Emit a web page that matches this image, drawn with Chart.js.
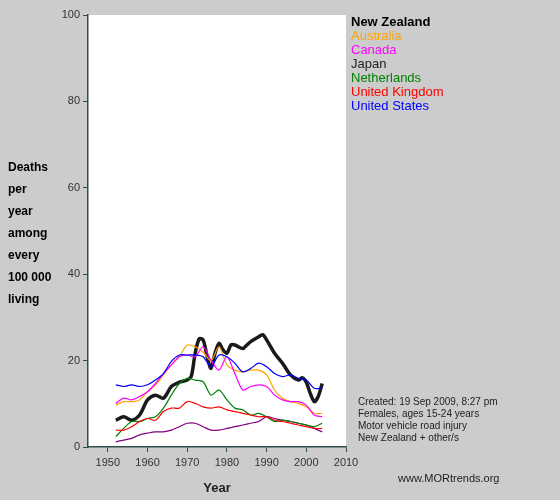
<!DOCTYPE html>
<html><head><meta charset="utf-8">
<script src="https://cdn.jsdelivr.net/npm/chart.js@4"></script>
<style>
body{margin:0;background:#cccccc;font-family:"Liberation Sans",Arial,sans-serif;}
#wrap{position:relative;width:560px;height:500px;}
.t{position:absolute;white-space:nowrap;}
</style></head><body>
<div id="wrap"><canvas id="c" width="560" height="500"></canvas>
<div class="t" style="left:8px;top:156px;font-weight:bold;font-size:12px;line-height:22px;color:#000">Deaths<br>per<br>year<br>among<br>every<br>100 000<br>living</div>
<div class="t" id="legend" style="left:351px;top:15px;font-size:13px;line-height:14px"></div>
<div class="t" style="left:358px;top:396px;font-size:10px;line-height:12px;color:#222">Created: 19 Sep 2009, 8:27 pm<br>Females, ages 15-24 years<br>Motor vehicle road injury<br>New Zealand + other/s</div>
<div class="t" style="left:398px;top:472px;font-size:11px;color:#222">www.MORtrends.org</div>
</div>
<script>
const nzYears = [1952,1954,1956,1958,1960,1962,1964,1966,1968,1970,1971,1972,1973,1974,1975,1976,1977,1978,1979,1980,1981,1982,1984,1985,1986,1988,1989,1990,1992,1994,1996,1998,1999,2000,2001,2002,2003,2004];
const nzValues = [6.2,7,6.2,7.4,10.9,12,11.3,14,15,15.5,16.3,21.7,25,24.8,21,18.2,21.7,24,22.5,21.7,23.6,23.6,22.8,23.6,24.4,25.5,26,24.8,21.7,19.4,16.7,15.5,16,15,12.4,10.5,11.7,14.7];
const years = [1952,1954,1956,1958,1960,1962,1964,1966,1968,1970,1972,1974,1976,1978,1980,1982,1984,1986,1988,1990,1992,1994,1996,1998,2000,2002,2004];
const australia = [9.7,10.5,10.5,10.9,12.8,14.4,16.7,19,20.9,23.6,23.2,22,20,23.2,19,17.8,17.4,17.8,17.8,16.7,13.2,11.3,10.5,10.1,9.3,7.8,7.8];
const canada = [10.1,11.3,10.9,11.7,12.8,14.7,17,19,20.9,21.3,20.9,23.2,20.1,17.8,20.9,17,13.2,14,14.4,14,12,10.9,10.5,10.5,9.7,7.4,7];
const japan = [1.2,1.6,2,2.8,3.2,3.5,3.5,3.9,4.7,5.5,5.5,4.7,3.9,3.9,4.3,4.7,5.1,5.5,5.9,7,6.6,6.2,5.9,5.5,5.1,4.3,3.5];
const netherlands = [2.4,4.3,5.9,5.9,6.6,7,9,12,14.7,15.9,15.5,15.1,12,13.2,10.9,9,8.6,7.4,7.8,7,5.9,6.2,5.9,5.5,5.1,4.7,5.5];
const uk = [3.9,3.9,4.7,5.9,6.6,6.2,8.2,9,9,10.5,10.1,9.3,9,9.3,8.6,8.2,7.8,7.4,7,7,6.2,5.9,5.5,5.1,4.7,4.3,4.3];
const us = [14.4,14,14.4,14,14.4,15.5,17,19.8,21.3,21.3,21.3,20.9,18.6,21.3,20.9,19.4,17.4,18.2,19.4,18.6,17,16.3,16.7,15.9,15.5,13.6,13.6];
const yTicks = [0,20,40,60,80,100];
const xTicks = [1950,1960,1970,1980,1990,2000,2010];

function pts(xs, vs){ return xs.map((x,i)=>({x:x,y:vs[i]})); }
const series = [
  {label:"New Zealand", data:pts(nzYears,nzValues), color:"#1a1a1a", width:3.5, bold:true},
  {label:"Australia", data:pts(years,australia), color:"#ffa500", width:1.2},
  {label:"Canada", data:pts(years,canada), color:"#ff00ff", width:1.2},
  {label:"Japan", data:pts(years,japan), color:"#800080", width:1.2, legendColor:"#222"},
  {label:"Netherlands", data:pts(years,netherlands), color:"#008000", width:1.2},
  {label:"United Kingdom", data:pts(years,uk), color:"#ff0000", width:1.2},
  {label:"United States", data:pts(years,us), color:"#0000ff", width:1.2}
];
document.getElementById("legend").innerHTML = series.map(s =>
  `<div style="color:${s.legendColor||s.color};${s.bold?'font-weight:bold;color:#000':''}">${s.label}</div>`).join("");

const whiteArea = {
  id:"whiteArea",
  beforeDraw(chart){
    const a = chart.chartArea, ctx = chart.ctx;
    ctx.save(); ctx.fillStyle="#fff"; ctx.fillRect(a.left,a.top,a.right-a.left,a.bottom-a.top); ctx.restore();
  }
};

new Chart(document.getElementById("c").getContext("2d"), {
  type:"line",
  data:{datasets: series.slice().reverse().map(s => ({
    label:s.label, data:s.data, borderColor:s.color, borderWidth:s.width,
    pointRadius:0, tension:0.3, fill:false
  }))},
  options:{
    responsive:false, animation:false,
    layout:{padding:{left:0,right:214,top:15,bottom:0}},
    plugins:{legend:{display:false}, tooltip:{enabled:false}},
    scales:{
      x:{type:"linear", min:1945, max:2010,
        afterBuildTicks(s){ s.ticks = xTicks.map(v=>({value:v})); },
        afterFit(s){ s.height = 53; },
        grid:{drawOnChartArea:false, drawTicks:true, tickLength:5, color:"#2f4f4f"},
        border:{color:"#2f4f4f", width:1.5},
        ticks:{color:"#333", font:{size:11, family:"Liberation Sans"}, maxRotation:0, padding:4, callback:v=>String(v)},
        title:{display:true, text:"Year", color:"#222", font:{size:13, weight:"bold", family:"Liberation Sans"}}
      },
      y:{min:0, max:100,
        afterBuildTicks(s){ s.ticks = yTicks.map(v=>({value:v})); },
        afterFit(s){ s.width = 88; },
        grid:{drawOnChartArea:false, drawTicks:true, tickLength:5, color:"#2f4f4f"},
        border:{color:"#2f4f4f", width:1.5},
        ticks:{color:"#333", font:{size:11, family:"Liberation Sans"}, padding:3}
      }
    }
  },
  plugins:[whiteArea]
});
</script></body></html>
